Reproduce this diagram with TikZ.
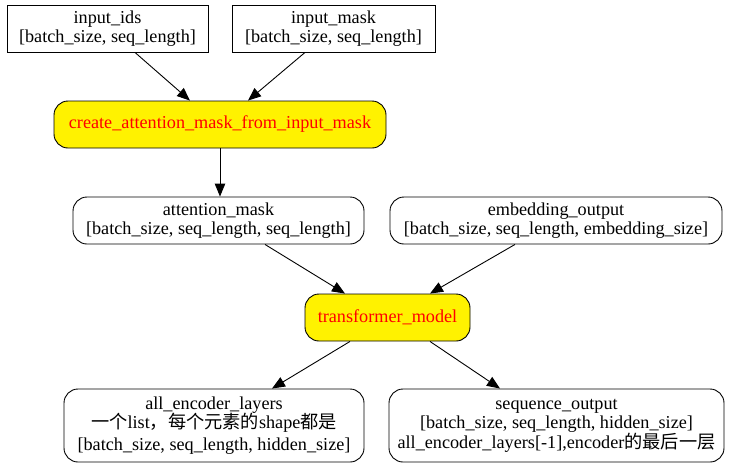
\documentclass[tikz,border=0pt]{standalone}
\usepackage{fontspec}
\setmainfont{Liberation Serif}
\newfontfamily\cjk{Noto Sans CJK SC}
\usetikzlibrary{arrows.meta}
\begin{document}
\begin{tikzpicture}[x=1pt,y=-1pt,
  every node/.style={font=\fontsize{18.2}{19.5}\selectfont, inner sep=0pt, align=center},
  plainbox/.style={draw, line width=0.9pt, rectangle},
  roundbox/.style={draw, line width=0.9pt, rectangle, rounded corners=14pt},
  opbox/.style={roundbox, fill=yellow, text=red},
  arr/.style={line width=0.9pt, -{Triangle[length=13pt,width=10.5pt]}}
]
\useasboundingbox (0,0) rectangle (742,469);
\node[plainbox, minimum width=201pt, minimum height=47pt] (ids) at (107.5,28.5) {input\_ids\\{[}batch\_size, seq\_length{]}};
\node[plainbox, minimum width=203pt, minimum height=47pt] (mask) at (333.5,28.5) {input\_mask\\{[}batch\_size, seq\_length{]}};
\node[opbox, minimum width=332pt, minimum height=47pt] (create) at (220,124.5) {create\_attention\_mask\_from\_input\_mask};
\node[roundbox, minimum width=291pt, minimum height=47pt] (attn) at (218.5,220.5) {attention\_mask\\{[}batch\_size, seq\_length, seq\_length{]}};
\node[roundbox, minimum width=332pt, minimum height=47pt] (emb) at (556,220.5) {embedding\_output\\{[}batch\_size, seq\_length, embedding\_size{]}};
\node[opbox, minimum width=165pt, minimum height=47pt] (tm) at (387.5,317.5) {transformer\_model};
\node[roundbox, minimum width=300pt, minimum height=73pt] (all) at (214,425.5) {all\_encoder\_layers\\{\cjk 一个}list{\cjk ，每个元素的}shape{\cjk 都是}\\[2pt]{[}batch\_size, seq\_length, hidden\_size{]}};
\node[roundbox, minimum width=335pt, minimum height=73pt] (seq) at (556.5,425.5) {sequence\_output\\{[}batch\_size, seq\_length, hidden\_size{]}\\all\_encoder\_layers{[}-1{]},encoder{\cjk 的最后一层}};
\draw[arr] ([xshift=27.5pt]ids.south) -- ([xshift=-30pt]create.north);
\draw[arr] ([xshift=-28.5pt]mask.south) -- ([xshift=28pt]create.north);
\draw[arr] (create.south) -- (create.south |- attn.north);
\draw[arr] ([xshift=46.5pt]attn.south) -- ([xshift=-42.5pt]tm.north);
\draw[arr] ([xshift=-41pt]emb.south) -- ([xshift=42.5pt]tm.north);
\draw[arr] ([xshift=-37.5pt]tm.south) -- ([xshift=58pt]all.north);
\draw[arr] ([xshift=42.5pt]tm.south) -- ([xshift=-56.5pt]seq.north);
\end{tikzpicture}
\end{document}
